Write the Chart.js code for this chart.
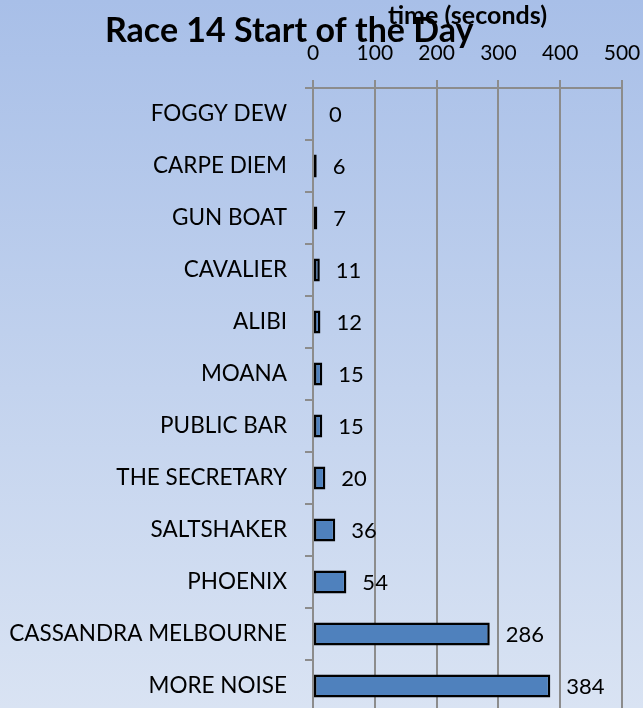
<!DOCTYPE html>
<html lang="en">
<head>
  <meta charset="UTF-8" />
  <title>Race 14 Start of the Day</title>
  <script src="https://cdn.jsdelivr.net/npm/chart.js"></script>
  <style>
    html, body { margin: 0; padding: 0; overflow: hidden; }
    body {
      width: 643px;
      height: 708px;
      background: linear-gradient(to bottom, #a8bfe8 0%, #c3d3ee 55%, #d9e3f3 100%);
    }
    .chart-box { position: relative; width: 643px; height: 712px; }
  </style>
</head>
<body>
  <div class="chart-box">
    <canvas id="raceChart"></canvas>
  </div>

  <script>
    const boats = ['FOGGY DEW', 'CARPE DIEM', 'GUN BOAT', 'CAVALIER', 'ALIBI', 'MOANA',
      'PUBLIC BAR', 'THE SECRETARY', 'SALTSHAKER', 'PHOENIX', 'CASSANDRA MELBOURNE', 'MORE NOISE'];
    const startTimes = [0, 6, 7, 11, 12, 15, 15, 20, 36, 54, 286, 384];
    const timeTicks = [0, 100, 200, 300, 400, 500];

    const chartTitle = 'Race 14 Start of the Day';
    const axisTitle = 'time (seconds)';
    const gridGray = '#8c8c8c';

    // title sits over the axis title like in the original, so it's drawn by hand
    const titlePlugin = {
      id: 'bigTitle',
      afterDraw(chart) {
        const c = chart.ctx;
        c.save();
        c.font = 'bold 34px Lato';
        c.fillStyle = '#000';
        c.textAlign = 'left';
        c.textBaseline = 'alphabetic';
        c.fillText(chartTitle, 105, 42);
        c.restore();
      }
    };

    // value labels to the right of each bar
    const valuePlugin = {
      id: 'values',
      afterDatasetsDraw(chart) {
        const c = chart.ctx;
        const meta = chart.getDatasetMeta(0);
        c.save();
        c.font = '22px Lato';
        c.fillStyle = '#000';
        c.textAlign = 'left';
        c.textBaseline = 'middle';
        meta.data.forEach((bar, i) => {
          c.fillText(String(startTimes[i]), bar.x + 16, bar.y + 1);
        });
        c.restore();
      }
    };

    new Chart(document.getElementById('raceChart'), {
      type: 'bar',
      data: {
        labels: boats,
        datasets: [{
          data: startTimes,
          backgroundColor: '#4f81bd',
          borderColor: '#000',
          borderWidth: 2.5,
          borderSkipped: false,
          barPercentage: 0.8,
          categoryPercentage: 0.55
        }]
      },
      options: {
        indexAxis: 'y',
        responsive: true,
        maintainAspectRatio: false,
        animation: false,
        layout: { padding: { top: 0, right: 21, bottom: 0, left: 0 } },
        plugins: {
          legend: { display: false },
          tooltip: { enabled: false },
          title: { display: false }
        },
        scales: {
          x: {
            position: 'top',
            min: 0,
            max: 500,
            afterBuildTicks: s => { s.ticks = timeTicks.map(v => ({ value: v })); },
            afterFit: s => { s.height = 88; s.paddingLeft = 0; s.paddingRight = 0; },
            title: {
              display: true,
              text: axisTitle,
              color: '#000',
              font: { family: 'Lato', size: 25, weight: 'bold' },
              padding: { top: 1, bottom: 0 }
            },
            ticks: {
              color: '#000',
              font: { family: 'Lato', size: 21 },
              padding: 14,
              maxRotation: 0
            },
            grid: { color: gridGray, lineWidth: 2, tickLength: 8 },
            border: { color: gridGray, width: 2 }
          },
          y: {
            afterFit: s => { s.width = 313; s.paddingTop = 0; s.paddingBottom = 0; },
            ticks: {
              color: '#000',
              font: { family: 'Lato', size: 22.5 },
              padding: 18
            },
            grid: { color: gridGray, lineWidth: 2, tickLength: 8, drawOnChartArea: false },
            border: { color: gridGray, width: 2 }
          }
        }
      },
      plugins: [titlePlugin, valuePlugin]
    });
  </script>
</body>
</html>
